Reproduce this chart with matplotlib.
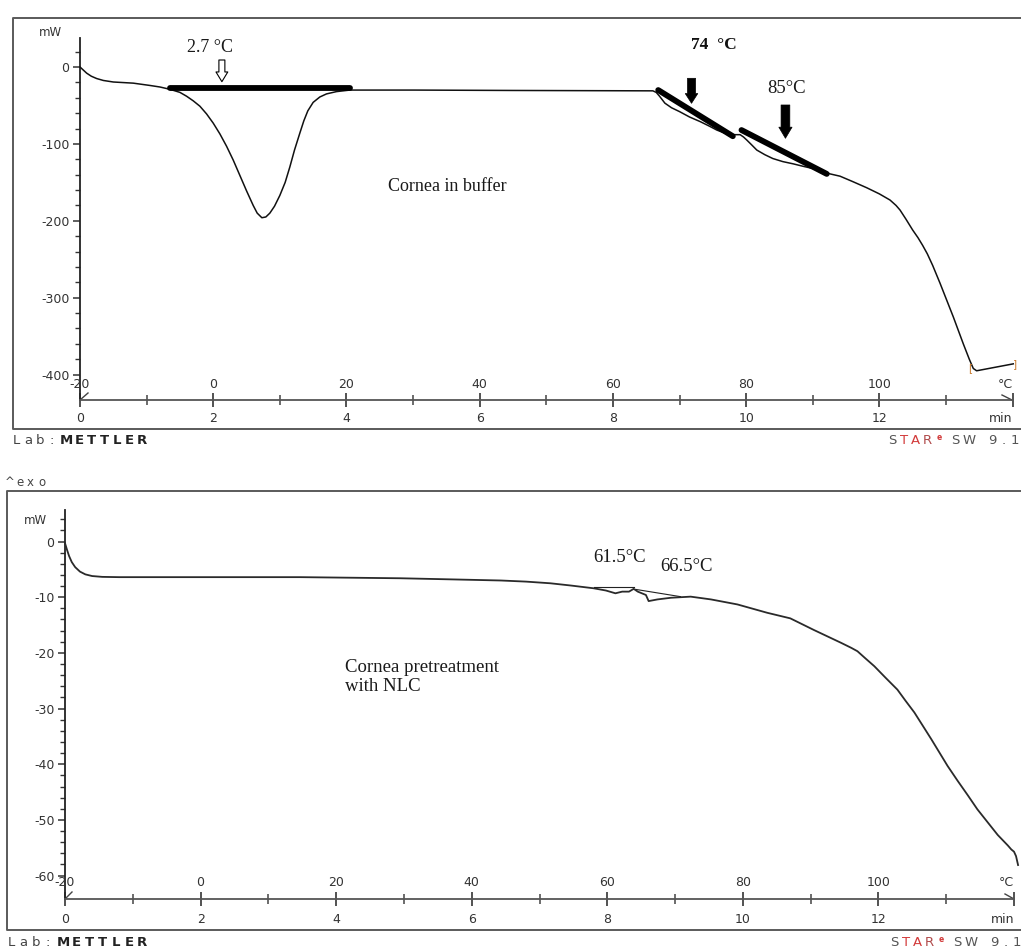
import matplotlib
matplotlib.use("Agg")
import matplotlib.pyplot as plt
from matplotlib.ticker import FixedLocator

plt.rcParams["axes.unicode_minus"] = False

W, H = 1021, 949

# ---------------- data ----------------
# Top panel: cornea in buffer (time in min, heat flow in mW)
top_time = [0.0, 0.05, 0.1, 0.17, 0.25, 0.35, 0.5, 0.8, 1.05, 1.2, 1.35, 1.5, 1.6,
            1.7, 1.8, 1.9, 2.0, 2.1, 2.2, 2.3, 2.4, 2.5, 2.6, 2.66, 2.73, 2.79,
            2.85, 2.92, 3.0, 3.08, 3.15, 3.22, 3.3, 3.36, 3.42, 3.5, 3.6, 3.7,
            3.85, 4.05, 5.0, 6.5, 8.6, 8.65, 8.7, 8.78, 8.88, 9.0, 9.15, 9.31,
            9.45, 9.56, 9.68, 9.78, 9.91, 9.96, 10.01, 10.08, 10.16, 10.28, 10.4,
            10.55, 10.71, 10.85, 11.0, 11.13, 11.26, 11.41, 11.6, 11.81, 12.0,
            12.16, 12.25, 12.31, 12.4, 12.5, 12.58, 12.65, 12.72, 12.8, 12.91,
            13.01, 13.11, 13.26, 13.35, 13.41, 13.46, 14.01]
top_mw = [0, -4, -8, -12, -15, -17.5, -19.5, -21, -24, -26, -29, -33, -38,
          -44, -51, -61, -73, -87, -103, -121, -141, -161, -180, -190, -196, -195,
          -190, -181, -167, -150, -130, -108, -86, -70, -57, -46, -39, -35,
          -32, -30, -30, -30.5, -31, -33, -38, -47, -53, -58, -65, -71,
          -77, -82, -86, -88, -88, -91, -95, -101, -108, -114, -119,
          -123, -126, -129, -132, -135, -139, -142, -149, -157, -165,
          -173, -180, -186, -198, -212, -222, -232, -243, -258, -281,
          -303, -325, -360, -380, -392, -395, -386]

# Bottom panel: cornea pretreated with NLC
bot_time = [0.0, 0.03, 0.06, 0.1, 0.15, 0.22, 0.3, 0.4, 0.55, 0.8, 1.5, 3.47,
            4.95, 5.7, 6.43, 6.8, 7.16, 7.46, 7.8, 7.98, 8.12, 8.22, 8.32, 8.39,
            8.45, 8.57, 8.61, 8.74, 8.94, 9.23, 9.53, 9.92, 10.36, 10.7, 11.05,
            11.45, 11.6, 11.69, 11.8, 11.94, 12.1, 12.28, 12.4, 12.53, 12.65,
            12.78, 12.9, 13.02, 13.17, 13.32, 13.46, 13.61, 13.76, 13.91, 13.96,
            14.0, 14.03, 14.06]
bot_mw = [-0.3, -1.5, -2.6, -3.7, -4.6, -5.4, -5.9, -6.2, -6.35, -6.4, -6.4, -6.4,
          -6.6, -6.8, -7.0, -7.2, -7.5, -7.9, -8.4, -8.8, -9.3, -9.0, -9.0, -8.5,
          -9.0, -9.6, -10.7, -10.4, -10.1, -9.9, -10.4, -11.3, -12.8, -13.8, -15.9,
          -18.2, -19.1, -19.7, -20.9, -22.4, -24.4, -26.6, -28.6, -30.7, -33.0,
          -35.5, -37.9, -40.3, -43.0, -45.6, -48.1, -50.4, -52.7, -54.6, -55.3,
          -55.7, -56.5, -58.1]

minute_ticks = [0, 2, 4, 6, 8, 10, 12, 14]
minute_labels = ["0", "2", "4", "6", "8", "10", "12", "min"]
temp_labels = ["-20", "0", "20", "40", "60", "80", "100", "°C"]

top_yticks = [0, -100, -200, -300, -400]
top_yminor = [20, -20, -40, -60, -80, -120, -140, -160, -180, -220, -240, -260,
              -280, -320, -340, -360, -380]
bot_yticks = [0, -10, -20, -30, -40, -50, -60]
bot_yminor = [4, 2, -2, -4, -6, -8, -12, -14, -16, -18, -22, -24, -26, -28, -32,
              -34, -36, -38, -42, -44, -46, -48, -52, -54, -56, -58]

# thick hand-drawn baselines of the top panel (t0, t1), (mW0, mW1)
top_baselines = [((1.35, 4.05), (-27.7, -27.7)),
                 ((8.68, 9.80), (-30.0, -90.0)),
                 ((9.93, 11.21), (-82.0, -139.0))]
# thin baselines of the bottom panel
bot_baselines = [((7.80, 8.39), (-8.1, -8.1)),
                 ((8.42, 9.08), (-8.6, -9.9))]

GRAY = "#555555"
TXT = "#333333"

fig = plt.figure(figsize=(W / 100, H / 100), dpi=100)

# background axes in pixel coordinates for frames / footers
bg = fig.add_axes([0, 0, 1, 1])
bg.set_xlim(0, W)
bg.set_ylim(H, 0)
bg.axis("off")

# frames
bg.plot([W + 5, 13, 13, W + 5], [18, 18, 429, 429], color="#5a5a5a", lw=1.4)
bg.plot([W + 5, 6.5, 6.5, W + 5], [490.5, 490.5, 930, 930], color="#5a5a5a", lw=1.4)


def spaced(x_centers, y, chars, **kw):
    for xc, ch in zip(x_centers, chars):
        bg.text(xc, y, ch, ha="center", va="center", family="DejaVu Sans", **kw)


FS = 9.5


def footer(y, lab_x0, lab_dx, met_x0, met_dx, star_x0):
    spaced([lab_x0 + i * lab_dx for i in range(4)], y, "Lab:", fontsize=FS, color="#444444")
    spaced([met_x0 + i * met_dx for i in range(7)], y, "METTLER", fontsize=FS,
           color="#222222", fontweight="bold")
    xs = [star_x0, star_x0 + 12, star_x0 + 23.5, star_x0 + 35]
    cols = ["#555555", "#d23a3a", "#d23a3a", "#b04a4a"]
    for xc, ch, c in zip(xs, "STAR", cols):
        bg.text(xc, y, ch, ha="center", va="center", family="DejaVu Sans",
                fontsize=FS, color=c)
    bg.text(star_x0 + 47, y - 3, "e", ha="center", va="center", family="DejaVu Sans",
            fontsize=5.5, color="#d23a3a", fontweight="bold")
    rest_x = [star_x0 + 63, star_x0 + 77, star_x0 + 100, star_x0 + 112, star_x0 + 123]
    for xc, ch in zip(rest_x, "SW9.1"):
        bg.text(xc, y, ch, ha="center", va="center", family="DejaVu Sans",
                fontsize=FS, color="#555555")


footer(440, 16.7, 11.7, 66.7, 12.6, 892)
footer(942, 11.0, 12.3, 63.0, 13.2, 894)

spaced([9.5, 19.5, 30.5, 41.5], 482, "^exo", fontsize=8.5, color="#444444")


def style_axes(ax, label_pad_x, temp_off):
    for s in ("top", "right"):
        ax.spines[s].set_visible(False)
    ax.patch.set_alpha(0)
    ax.spines["left"].set_color("#222222")
    ax.spines["left"].set_linewidth(1.3)
    ax.spines["bottom"].set_color(GRAY)
    ax.spines["bottom"].set_linewidth(1.3)
    ax.set_xlim(0, 14)
    ax.xaxis.set_major_locator(FixedLocator(minute_ticks))
    ax.set_xticklabels(minute_labels)
    ax.xaxis.set_minor_locator(FixedLocator([1, 3, 5, 7, 9, 11, 13]))
    ax.tick_params(axis="x", which="major", direction="inout", length=10, width=1.3,
                   color="#444444", labelcolor=TXT, labelsize=9, pad=label_pad_x)
    ax.tick_params(axis="x", which="minor", direction="inout", length=7, width=1.1,
                   color="#444444")
    ax.tick_params(axis="y", which="major", direction="out", length=5, width=1.1,
                   color="#333333", labelcolor=TXT, labelsize=9, pad=2.5)
    ax.tick_params(axis="y", which="minor", direction="out", length=3.5, width=1.0,
                   color="#333333")
    ax.get_xticklabels()[-1].set_ha("right")
    for t, lbl in zip(minute_ticks, temp_labels):
        ax.annotate(lbl, xy=(t, 0), xycoords=("data", "axes fraction"),
                    xytext=(0, temp_off), textcoords="offset points",
                    ha="right" if lbl == "°C" else "center", va="center",
                    fontsize=9, color=TXT, family="DejaVu Sans")


def rect(x0, y0, x1, y1):
    return [x0 / W, 1 - y1 / H, (x1 - x0) / W, (y1 - y0) / H]


serif = "Liberation Serif"

# ---------------- top panel ----------------
ax1 = fig.add_axes(rect(80, 37.7, 1012.6, 400))
ax1.set_ylim(-433.0, 38.1)
ax1.yaxis.set_major_locator(FixedLocator(top_yticks))
ax1.yaxis.set_minor_locator(FixedLocator(top_yminor))
style_axes(ax1, 3.5, 11.5)
ax1.plot(top_time, top_mw, color="#111111", lw=1.1, clip_on=False, zorder=3)
for (tx, my) in top_baselines:
    ax1.plot(tx, my, color="black", lw=4.2, solid_capstyle="round", zorder=4)
ax1.text(13.37, -392, "[", color="#c8782a", fontsize=7.5, ha="center", va="center")
ax1.text(14.04, -386, "]", color="#c8782a", fontsize=7.5, ha="center", va="center",
         clip_on=False)
ax1.text(-0.45, 45, "mW", fontsize=8.5, color=TXT, ha="center", va="center",
         family="DejaVu Sans")

ax1.text(1.95, 26, "2.7 °C", family=serif, fontsize=13, color="#1a1a1a",
         ha="center", va="center")
ax1.text(9.52, 28.6, "74  °C", family=serif, fontsize=12.5, fontweight="bold",
         color="#111111", ha="center", va="center")
ax1.text(10.6, -27.7, "85°C", family=serif, fontsize=13.5, color="#1a1a1a",
         ha="center", va="center")
ax1.text(4.62, -155.6, "Cornea in buffer", family=serif, fontsize=13,
         color="#1a1a1a", ha="left", va="center")

ax1.annotate("", xy=(2.13, -19.1), xytext=(2.13, 9.1),
             arrowprops=dict(arrowstyle="simple,head_length=7,head_width=8.5,tail_width=4.3",
                             mutation_scale=1, fc="white", ec="black", lw=0.8,
                             shrinkA=0, shrinkB=0))
ax1.annotate("", xy=(9.18, -47.2), xytext=(9.18, -14.7),
             arrowprops=dict(arrowstyle="simple,head_length=7,head_width=9,tail_width=5.8",
                             mutation_scale=1, fc="black", ec="black", lw=0.5,
                             shrinkA=0, shrinkB=0))
ax1.annotate("", xy=(10.59, -92.7), xytext=(10.59, -49.4),
             arrowprops=dict(arrowstyle="simple,head_length=8,head_width=9.5,tail_width=6.3",
                             mutation_scale=1, fc="black", ec="black", lw=0.5,
                             shrinkA=0, shrinkB=0))

# ---------------- bottom panel ----------------
ax2 = fig.add_axes(rect(65, 510, 1014, 899))
ax2.set_ylim(-64.2, 5.66)
ax2.yaxis.set_major_locator(FixedLocator(bot_yticks))
ax2.yaxis.set_minor_locator(FixedLocator(bot_yminor))
style_axes(ax2, 5.0, 11.7)
ax2.plot(bot_time, bot_mw, color="#2a2a2a", lw=1.3, clip_on=False, zorder=3)
for (tx, my) in bot_baselines:
    ax2.plot(tx, my, color="#222222", lw=0.8, zorder=4)
ax2.text(-0.43, 3.8, "mW", fontsize=8.5, color=TXT, ha="center", va="center",
         family="DejaVu Sans")
ax2.text(8.18, -2.8, "61.5°C", family=serif, fontsize=13.5, color="#1a1a1a",
         ha="center", va="center")
ax2.text(9.17, -4.4, "66.5°C", family=serif, fontsize=13.5, color="#1a1a1a",
         ha="center", va="center")
ax2.text(4.13, -24.3, "Cornea pretreatment\nwith NLC", family=serif, fontsize=13.5,
         color="#1a1a1a", ha="left", va="center", linespacing=1.15)

# small axis-origin slashes
bg.plot([80, 88], [400, 393], color="#444444", lw=1.0)
bg.plot([65, 72], [899, 892], color="#444444", lw=1.0)
bg.plot([1002, 1012], [395, 400], color="#444444", lw=1.0)
bg.plot([1005, 1014], [894, 899], color="#444444", lw=1.0)

fig.savefig("out.png", dpi=100)
